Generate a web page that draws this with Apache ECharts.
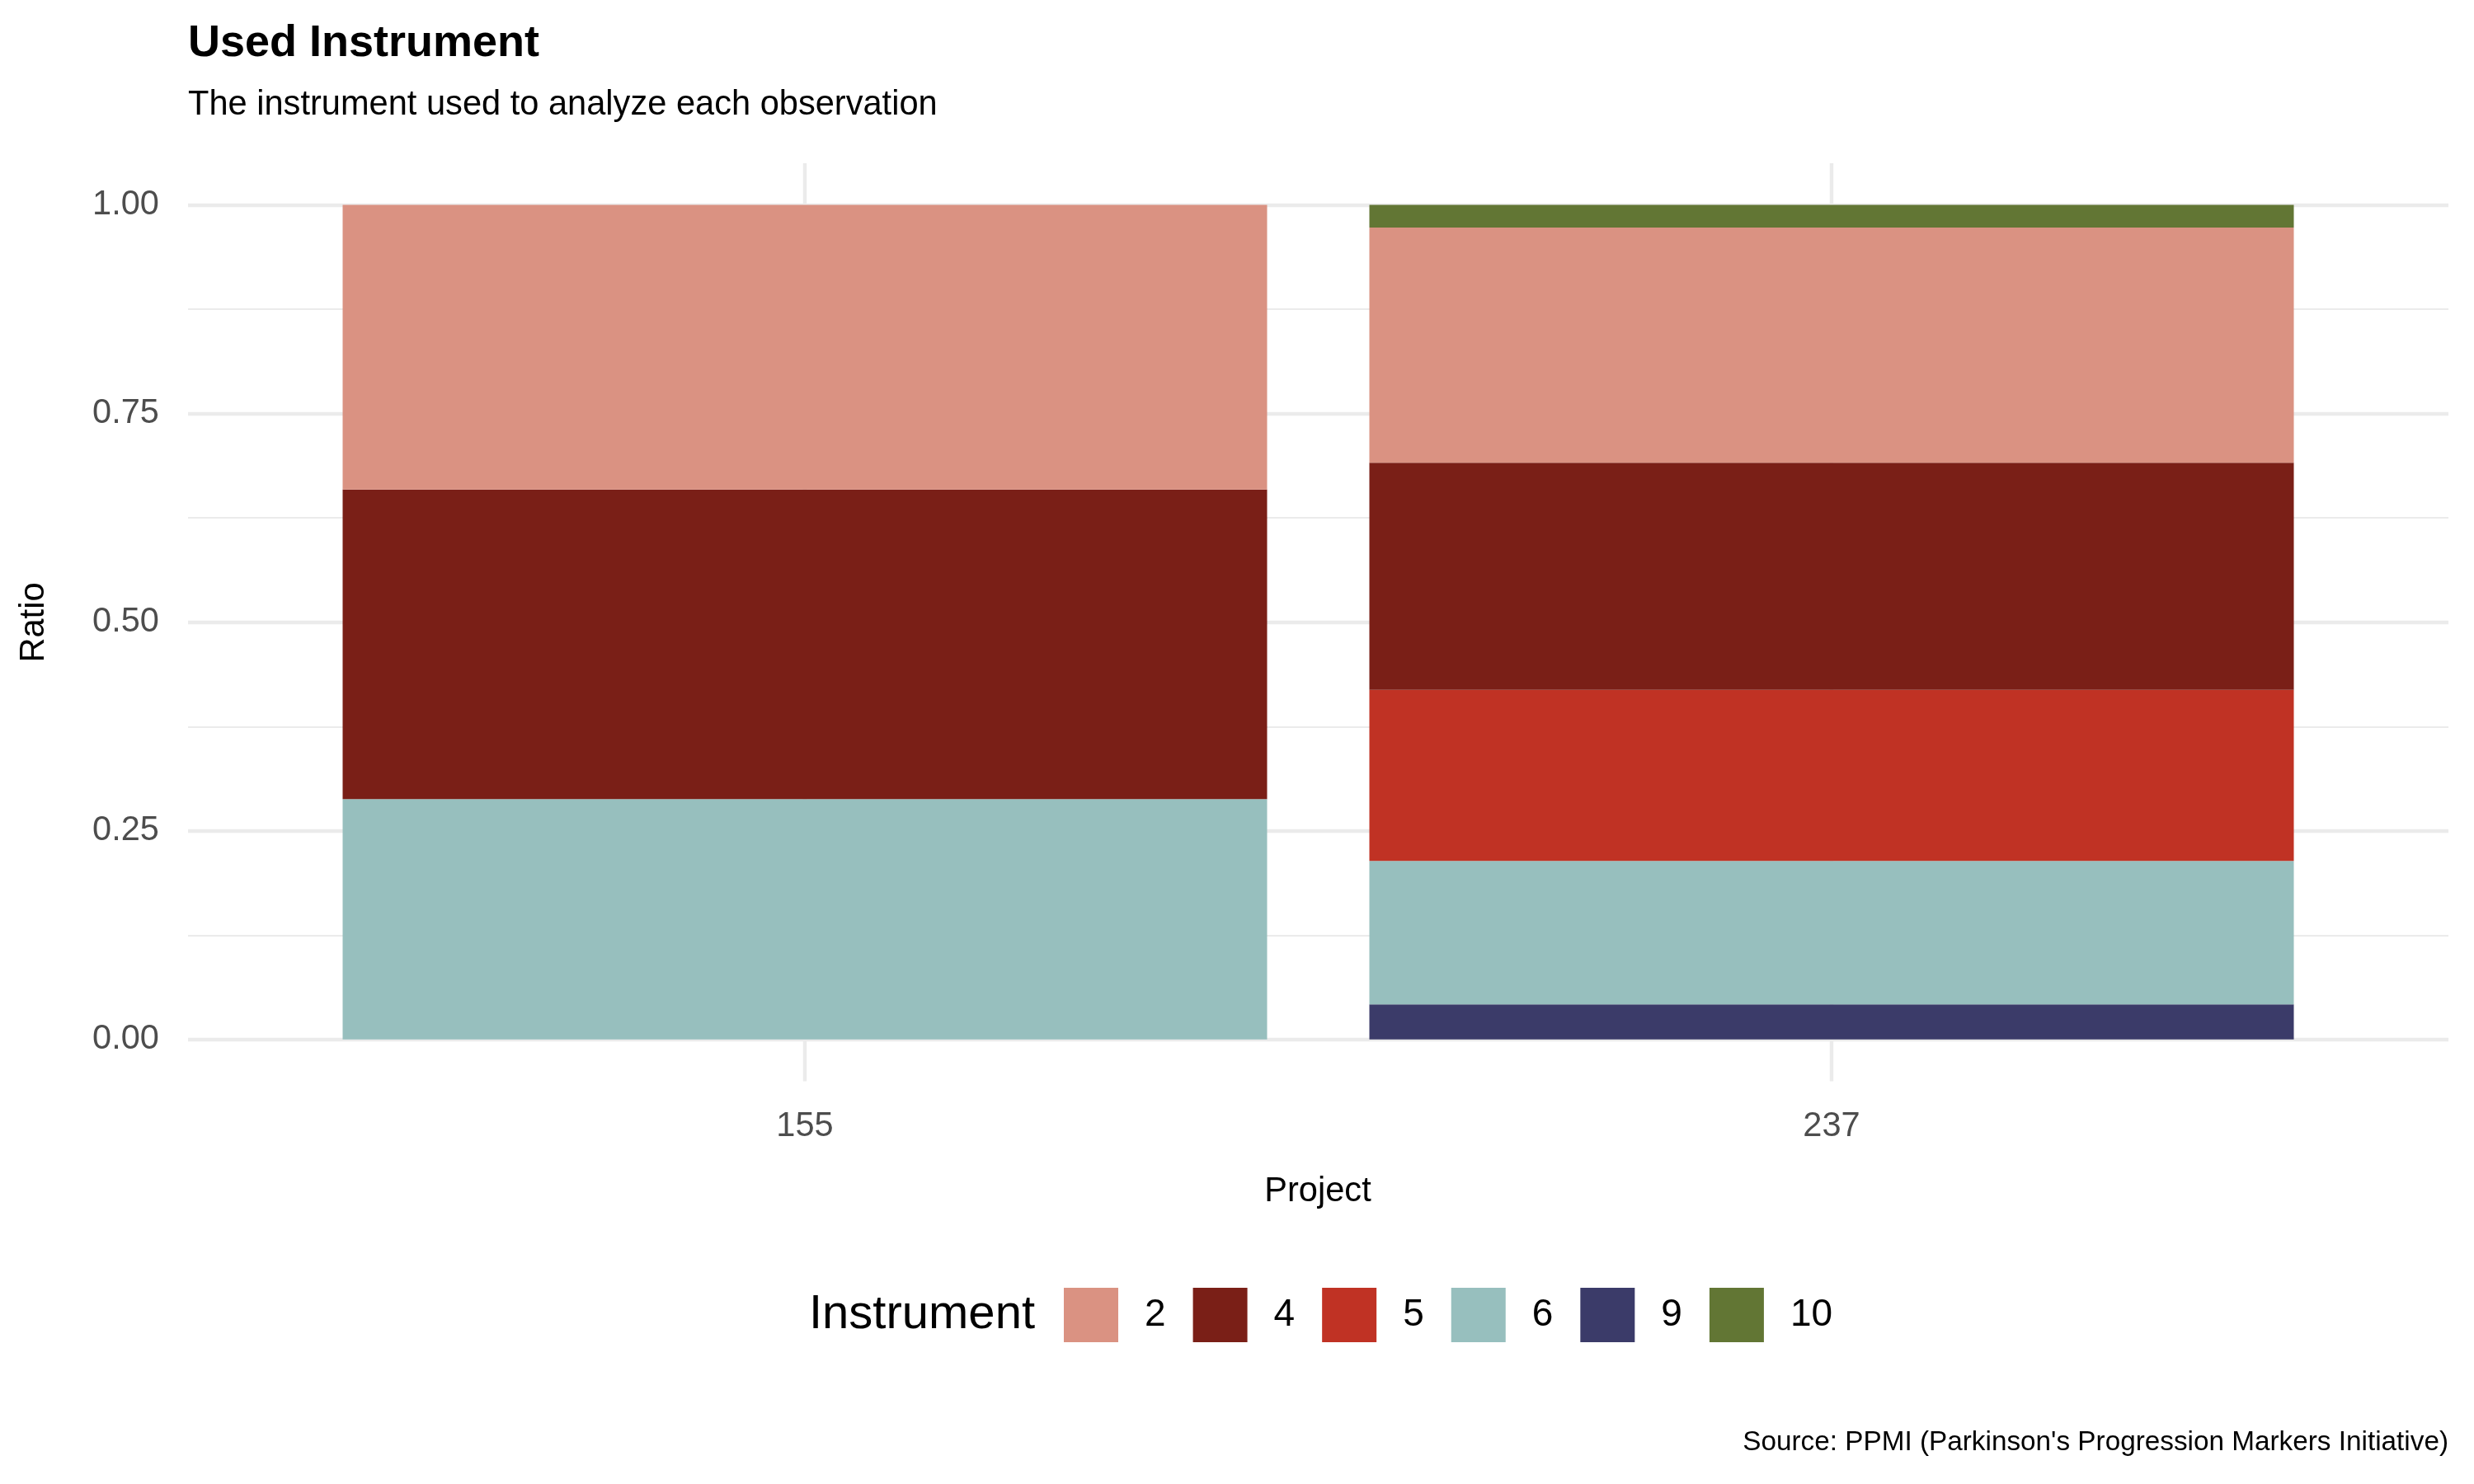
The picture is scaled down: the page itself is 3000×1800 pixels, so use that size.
<!DOCTYPE html>
<html>
<head>
<meta charset="utf-8">
<script src="https://cdn.jsdelivr.net/npm/echarts@6/dist/echarts.min.js"></script>
<style>html,body{margin:0;padding:0;background:#fff}#chart{width:3000px;height:1800px}</style>
</head>
<body>
<div id="chart"></div>
<script>
// ---- data ----
var projects = ['155', '237'];
var instrumentLevels = ['2', '4', '5', '6', '9', '10'];        // legend order
var stackOrder = ['9', '6', '5', '4', '2', '10'];               // bottom -> top
var ratio_2  = [0.341, 0.282];
var ratio_4  = [0.371, 0.272];
var ratio_5  = [0,     0.205];
var ratio_6  = [0.288, 0.172];
var ratio_9  = [0,     0.042];
var ratio_10 = [0,     0.027];
var yTicks = [0, 0.25, 0.5, 0.75, 1];

var ratios = {'2': ratio_2, '4': ratio_4, '5': ratio_5, '6': ratio_6, '9': ratio_9, '10': ratio_10};
var colors = {'2': '#DA9282', '4': '#7A1F17', '5': '#C03224', '6': '#97BFBE', '9': '#3B3B69', '10': '#627634'};

var FONT = '"Liberation Sans", Arial, Helvetica, sans-serif';
var chart = echarts.init(document.getElementById('chart'), null, {renderer: 'canvas'});

var series = stackOrder.map(function (k) {
  return {
    name: k, type: 'bar', stack: 'total', xAxisIndex: 1, yAxisIndex: 1,
    barWidth: 1121, data: ratios[k], itemStyle: {color: colors[k]},
    emphasis: {disabled: true}
  };
});

chart.setOption({
  backgroundColor: '#ffffff',
  animation: false,
  textStyle: {fontFamily: FONT},
  title: [
    {text: 'Used Instrument', left: 228, top: 26, padding: 0,
     textStyle: {fontSize: 54, fontWeight: 'bold', color: '#000', fontFamily: FONT}},
    {text: 'The instrument used to analyze each observation', left: 228, top: 107, padding: 0,
     textStyle: {fontSize: 41.6, fontWeight: 'normal', color: '#000', fontFamily: FONT}}
  ],
  grid: [
    {left: 228, right: 31, top: 248.7, height: 1012.1, containLabel: false},
    {left: 976, right: 779, top: 198, height: 1113.4, containLabel: false}
  ],
  xAxis: [
    {type: 'value', gridIndex: 0, min: 0, max: 1, show: false},
    {type: 'category', gridIndex: 1, data: projects, boundaryGap: false,
     axisLine: {show: false}, axisTick: {show: false},
     axisLabel: {margin: 34, fontSize: 41.6, color: '#4D4D4D', fontFamily: FONT},
     splitLine: {show: true, lineStyle: {color: '#EBEBEB', width: 4.4}}}
  ],
  yAxis: [
    {type: 'value', gridIndex: 0, min: 0, max: 1, interval: 0.25,
     axisLine: {show: false}, axisTick: {show: false},
     axisLabel: {margin: 35, fontSize: 41.6, color: '#4D4D4D', fontFamily: FONT,
                 formatter: function (v) { return v.toFixed(2); }},
     splitLine: {show: true, lineStyle: {color: '#EBEBEB', width: 4.4}},
     minorTick: {show: false, splitNumber: 2},
     minorSplitLine: {show: true, lineStyle: {color: '#EBEBEB', width: 2.2}}},
    {type: 'value', gridIndex: 1, min: -0.05, max: 1.05, show: false}
  ],
  legend: {
    data: instrumentLevels, left: 1290, top: 1562, orient: 'horizontal', padding: 0,
    icon: 'rect', itemWidth: 66, itemHeight: 66, itemGap: 33,
    selectedMode: false,
    textStyle: {fontSize: 46, color: '#000', fontFamily: FONT, padding: [0, 0, 0, 27]}
  },
  graphic: [
    {type: 'text', left: 981, top: 1562, z: 10,
     style: {text: 'Instrument', fontSize: 58, fill: '#000', fontFamily: FONT,
             lineHeight: 66, verticalAlign: 'top'}},
    {type: 'text', x: 1598, y: 1446, z: 10,
     style: {text: 'Project', fontSize: 41.6, fill: '#000', fontFamily: FONT,
             align: 'center', verticalAlign: 'middle'}},
    {type: 'text', x: 42, y: 755, rotation: Math.PI / 2, z: 10,
     style: {text: 'Ratio', fontSize: 41.6, fill: '#000', fontFamily: FONT,
             align: 'center', verticalAlign: 'middle'}},
    {type: 'text', x: 2969, y: 1750, z: 10,
     style: {text: "Source: PPMI (Parkinson's Progression Markers Initiative)", fontSize: 33.3,
             fill: '#000', fontFamily: FONT, align: 'right', verticalAlign: 'middle'}}
  ],
  series: series
});
</script>
</body>
</html>
